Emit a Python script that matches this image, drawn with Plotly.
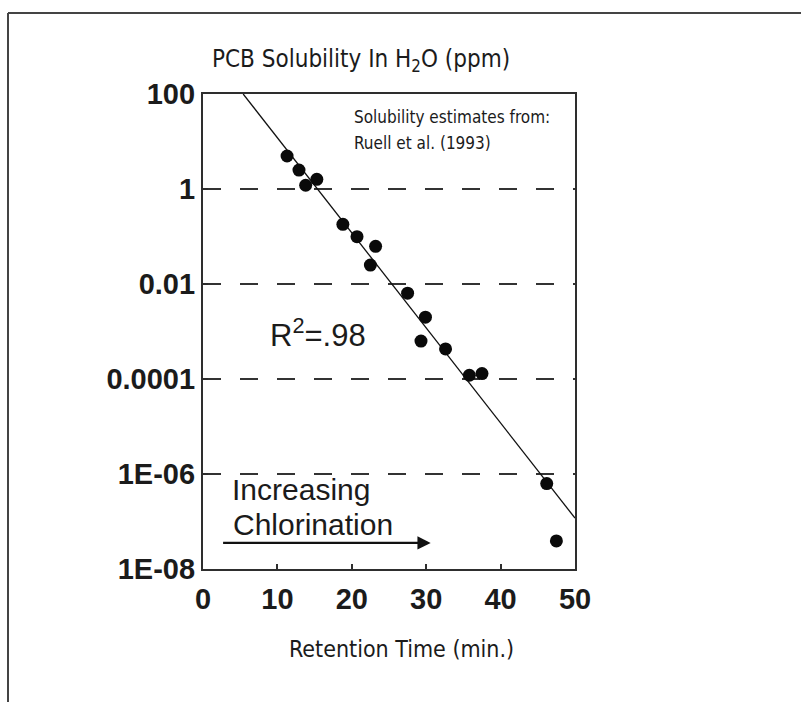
import plotly.graph_objects as go

# Retention time (min) and water solubility (ppm) for the PCB congeners
retention_min = [11.3, 12.9, 13.8, 15.3, 18.8, 20.7, 23.2, 22.5, 27.5,
                 29.9, 29.3, 32.6, 35.8, 37.5, 46.2, 47.5]
solubility_ppm = [4.95, 2.5, 1.2, 1.6, 0.18, 0.099, 0.062, 0.025, 0.0064,
                  0.002, 0.00063, 0.00043, 0.00012, 0.00013, 6.3e-7, 3.9e-8]

# End points of the log-linear regression line
fit_x = [5.4, 50]
fit_y = [100, 1.18e-7]

x_ticks = [0, 10, 20, 30, 40, 50]
y_ticks = [100, 1, 0.01, 0.0001, 1e-6, 1e-8]
y_tick_labels = ["100", "1", "0.01", "0.0001", "1E-06", "1E-08"]

W, H = 801, 702
L, R, T, B = 203, 575, 94, 569  # plot box in pixels

def px(xp, yp):
    """pixel position -> paper coordinates"""
    return (xp - L) / (R - L), (B - yp) / (B - T)

INK = "#1b1b1b"
LINE = "#2e2e2e"
NARROW = "DejaVu Sans Condensed, Arial Narrow, sans-serif"
SANS = "Liberation Sans, Arial, Helvetica, sans-serif"

fig = go.Figure()

fig.add_trace(go.Scatter(
    x=fit_x, y=fit_y, mode="lines",
    line=dict(color="#111111", width=1.3),
    hoverinfo="skip", showlegend=False,
))
fig.add_trace(go.Scatter(
    x=retention_min, y=solubility_ppm, mode="markers",
    marker=dict(color="#0a0a0a", size=13, symbol="circle"),
    showlegend=False,
))

tick_font = dict(family=SANS, size=29, color=INK, weight="bold")

fig.update_xaxes(
    range=[0, 50], tickvals=x_ticks, ticks="inside", ticklen=5, tickwidth=1.5,
    tickcolor=LINE, showline=True, linecolor=LINE, linewidth=2.2, mirror=True,
    showgrid=False, zeroline=False, ticklabelstandoff=3,
    tickfont=tick_font,
)
fig.update_yaxes(
    type="log", range=[-8, 2], tickvals=y_ticks, ticktext=y_tick_labels,
    ticks="inside", ticklen=5, tickwidth=1.5, tickcolor=LINE,
    showline=True, linecolor=LINE, linewidth=2.2, mirror=True,
    showgrid=True, gridcolor="#333333", gridwidth=2, griddash="18px,19px",
    zeroline=False,
    tickfont=tick_font,
)

annotations = []

def text(xp, yp, s, size, family, anchor="left"):
    ax, ay = px(xp, yp)
    annotations.append(dict(
        x=ax, y=ay, xref="paper", yref="paper", text=s, showarrow=False,
        xanchor=anchor, yanchor="middle",
        font=dict(family=family, size=size, color=INK),
    ))

text(361, 60, "PCB Solubility In H<sub>2</sub>O (ppm)", 24, NARROW, "center")
text(401, 649, "Retention Time (min.)", 23, NARROW, "center")
text(352, 117, "Solubility estimates from:", 17, NARROW)
text(352, 143, "Ruell et al. (1993)", 17, NARROW)
text(268, 333, "R<sup>2</sup>=.98", 31, SANS)
text(230, 489, "Increasing", 30, SANS)
text(231, 524, "Chlorination", 30, SANS)

# "Increasing Chlorination" arrow
annotations.append(dict(
    x=30.6, y=-7.45, ax=2.5, ay=-7.45, xref="x", yref="y", axref="x", ayref="y",
    text="", showarrow=True, arrowhead=2, arrowsize=1.1, arrowwidth=2.4,
    arrowcolor="#111111",
))

# outer frame (top and left edges)
x0, y0 = px(8, 13)
x1, _ = px(W, 13)
_, y1 = px(8, H)
shapes = [
    dict(type="line", xref="paper", yref="paper", x0=x0, y0=y0, x1=x1, y1=y0,
         line=dict(color="#444444", width=2)),
    dict(type="line", xref="paper", yref="paper", x0=x0, y0=y0, x1=x0, y1=y1,
         line=dict(color="#444444", width=2)),
]

fig.update_layout(
    width=W, height=H,
    margin=dict(l=L, r=W - R, t=T, b=H - B),
    paper_bgcolor="white", plot_bgcolor="white",
    annotations=annotations, shapes=shapes,
    showlegend=False,
)

fig.write_html("out.html")
